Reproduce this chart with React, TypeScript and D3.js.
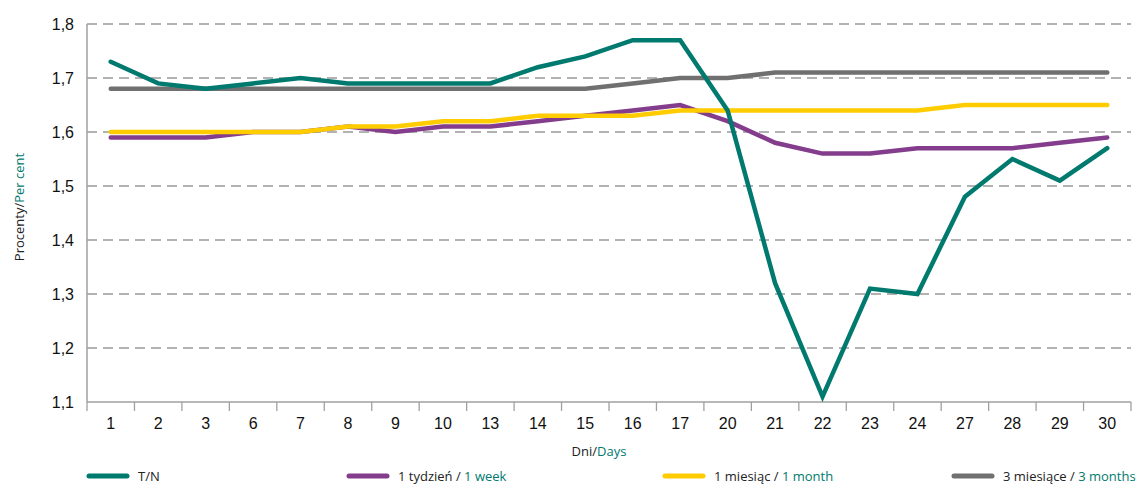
import * as d3 from "d3";

// Days on the x axis
const days = ["1", "2", "3", "6", "7", "8", "9", "10", "13", "14", "15", "16", "17", "20", "21", "22", "23", "24", "27", "28", "29", "30"];

// Rates, per cent
const tn = [1.73, 1.69, 1.68, 1.69, 1.7, 1.69, 1.69, 1.69, 1.69, 1.72, 1.74, 1.77, 1.77, 1.64, 1.32, 1.11, 1.31, 1.3, 1.48, 1.55, 1.51, 1.57];
const week1 = [1.59, 1.59, 1.59, 1.6, 1.6, 1.61, 1.6, 1.61, 1.61, 1.62, 1.63, 1.64, 1.65, 1.62, 1.58, 1.56, 1.56, 1.57, 1.57, 1.57, 1.58, 1.59];
const month1 = [1.6, 1.6, 1.6, 1.6, 1.6, 1.61, 1.61, 1.62, 1.62, 1.63, 1.63, 1.63, 1.64, 1.64, 1.64, 1.64, 1.64, 1.64, 1.65, 1.65, 1.65, 1.65];
const month3 = [1.68, 1.68, 1.68, 1.68, 1.68, 1.68, 1.68, 1.68, 1.68, 1.68, 1.68, 1.69, 1.7, 1.7, 1.71, 1.71, 1.71, 1.71, 1.71, 1.71, 1.71, 1.71];

const yTicks = [1.1, 1.2, 1.3, 1.4, 1.5, 1.6, 1.7, 1.8];

const TEAL = "#007a6e";
const PURPLE = "#843c8c";
const YELLOW = "#ffcc00";
const GRAY = "#707070";

const series = [
  { key: "tn", values: tn, color: TEAL, pl: "T/N", en: "" },
  { key: "w1", values: week1, color: PURPLE, pl: "1 tydzień / ", en: "1 week" },
  { key: "m1", values: month1, color: YELLOW, pl: "1 miesiąc / ", en: "1 month" },
  { key: "m3", values: month3, color: GRAY, pl: "3 miesiące / ", en: "3 months" },
];

// draw order: gray at the back, teal on top
const drawOrder = ["m3", "w1", "m1", "tn"];
const legendX = [87, 347, 663, 952];

export default function App() {
  const width = 1137;
  const height = 485;
  const margin = { top: 24, right: 6, bottom: 83, left: 87 };
  const plotRight = width - margin.right;
  const plotBottom = height - margin.bottom;

  const x = d3.scaleBand().domain(days).range([margin.left, 1131]);
  const y = d3.scaleLinear().domain([1.1, 1.8]).range([plotBottom, margin.top]);

  const line = d3
    .line<number>()
    .x((d, i) => (x(days[i]) as number) + x.bandwidth() / 2)
    .y((d) => y(d));

  const fmt = (v: number) => d3.format(".1f")(v).replace(".", ",");
  const tickFont = "'Liberation Sans Narrow', 'Liberation Sans', Arial, sans-serif";
  const labelFont = "'Open Sans', sans-serif";

  const bounds = days.map((d) => x(d) as number).concat([x.range()[1]]);

  return (
    <svg
      width={width}
      height={height}
      style={{ position: "absolute", left: 0, top: 0, background: "#fff" }}
    >
      {/* gridlines */}
      {yTicks.slice(1).map((t) => (
        <line
          key={t}
          x1={margin.left}
          x2={plotRight}
          y1={y(t)}
          y2={y(t)}
          stroke="#999"
          strokeWidth={1.3}
          strokeDasharray="10,6"
        />
      ))}

      {/* y axis */}
      <line x1={margin.left} x2={margin.left} y1={margin.top} y2={plotBottom} stroke="#a0a0a0" strokeWidth={1.5} />
      {yTicks.map((t) => (
        <text
          key={t}
          x={74}
          y={y(t)}
          dy="0.35em"
          textAnchor="end"
          fontFamily={tickFont}
          fontSize={16}
          fill="#111"
        >
          {fmt(t)}
        </text>
      ))}

      {/* x axis */}
      <line x1={margin.left} x2={plotRight} y1={plotBottom} y2={plotBottom} stroke="#a0a0a0" strokeWidth={1.5} />
      {bounds.map((b, i) => (
        <line key={i} x1={b} x2={b} y1={plotBottom} y2={plotBottom + 9} stroke="#a0a0a0" strokeWidth={1.3} />
      ))}
      {days.map((d) => (
        <text
          key={d}
          x={(x(d) as number) + x.bandwidth() / 2}
          y={plotBottom + 21}
          dy="0.35em"
          textAnchor="middle"
          fontFamily={tickFont}
          fontSize={16}
          fill="#111"
        >
          {d}
        </text>
      ))}

      {/* axis titles */}
      <text
        transform={`translate(24,207) rotate(-90)`}
        textAnchor="middle"
        fontFamily={labelFont}
        fontSize={13}
        fill="#222"
      >
        Procenty/<tspan fill={TEAL}>Per cent</tspan>
      </text>
      <text
        x={599}
        y={451}
        dy="0.35em"
        textAnchor="middle"
        fontFamily={labelFont}
        fontSize={13}
        fill="#222"
      >
        Dni/<tspan fill={TEAL}>Days</tspan>
      </text>

      {/* series */}
      {drawOrder.map((k) => {
        const s = series.find((q) => q.key === k)!;
        return (
          <path
            key={k}
            d={line(s.values) as string}
            fill="none"
            stroke={s.color}
            strokeWidth={4.5}
            strokeLinejoin="miter"
            strokeLinecap="round"
          />
        );
      })}

      {/* legend */}
      {series.map((s, i) => (
        <g key={s.key} transform={`translate(${legendX[i]},476)`}>
          <line x1={2} x2={40} y1={0} y2={0} stroke={s.color} strokeWidth={5} strokeLinecap="round" />
          <text x={51} y={0} dy="0.35em" fontFamily={labelFont} fontSize={13} fill="#222">
            {s.pl}
            {s.en && <tspan fill={TEAL}>{s.en}</tspan>}
          </text>
        </g>
      ))}
    </svg>
  );
}
